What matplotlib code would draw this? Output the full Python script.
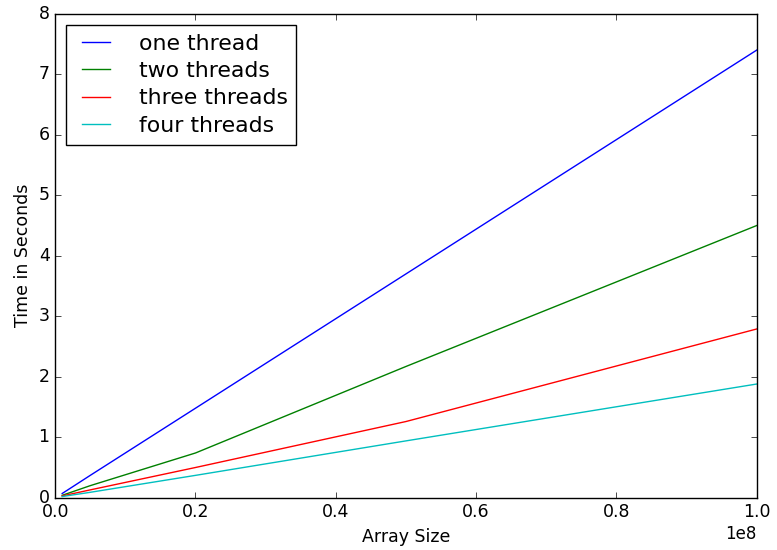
import numpy as np
import matplotlib
matplotlib.use("Agg")
import matplotlib.pyplot as plt

plt.style.use('classic')

# array sizes and timings
sizes = [1e6, 5e6, 2e7, 5e7, 1e8]
one_thread = [0.07, 0.37, 1.48, 3.70, 7.40]
two_threads = [0.04, 0.20, 0.74, 2.17, 4.50]
three_threads = [0.03, 0.13, 0.50, 1.26, 2.79]
four_threads = [0.02, 0.09, 0.37, 0.94, 1.88]

fig = plt.figure(figsize=(7.77, 5.5), dpi=100, facecolor='white')
ax = fig.add_subplot(111)
fig.subplots_adjust(left=0.071, right=0.974, top=0.975, bottom=0.095)

ax.plot(sizes, one_thread, label='one thread')
ax.plot(sizes, two_threads, label='two threads')
ax.plot(sizes, three_threads, label='three threads')
ax.plot(sizes, four_threads, label='four threads')

ax.set_xlim(0, 1e8)
ax.set_ylim(0, 8)
ax.set_xlabel('Array Size', fontsize=12.5)
ax.set_ylabel('Time in Seconds', fontsize=12.5)
ax.tick_params(labelsize=12.5)
ax.legend(loc='upper left', fontsize=15.8, handlelength=1.9,
          handletextpad=1.0, labelspacing=0.34)

fig.savefig('out.png', dpi=100, facecolor='white')
